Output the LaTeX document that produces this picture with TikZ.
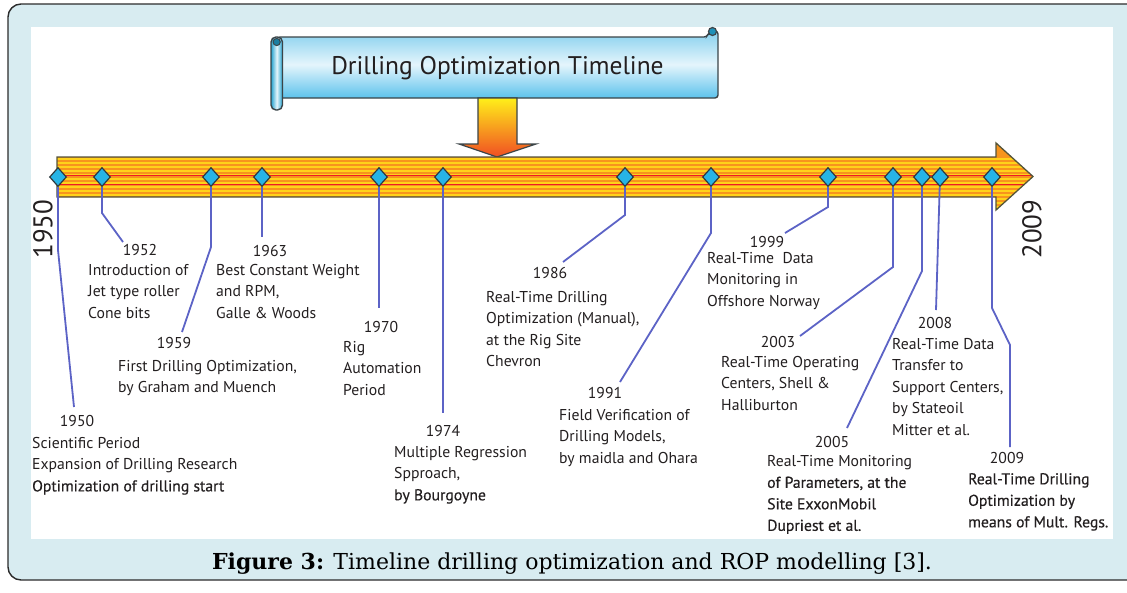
\documentclass[tikz,border=0pt]{standalone}
\usepackage{fontspec}
\newfontfamily\lblfont{PT Sans}
\newfontfamily\lblheavy[FakeBold=0.4]{PT Sans}
\newfontfamily\capfont{DejaVu Serif}
\usetikzlibrary{shapes.geometric}

\definecolor{framebg}{HTML}{D8ECF1}
\definecolor{framerule}{HTML}{2B2B2B}
\definecolor{conncol}{HTML}{5C63C6}
\definecolor{gem}{HTML}{27B4E6}
\definecolor{gemrule}{HTML}{2F3A3F}
\definecolor{barorange}{HTML}{F7941D}
\definecolor{baryellow}{HTML}{FFD21A}
\definecolor{barred}{HTML}{ED1C24}
\definecolor{barrule}{HTML}{55553A}
\definecolor{inkcol}{HTML}{231F20}
\definecolor{scrolltop}{HTML}{86D0EE}
\definecolor{scrollmid}{HTML}{E4F5FC}
\definecolor{scrollbot}{HTML}{5CC2EC}
\definecolor{scrollrule}{HTML}{3B4448}
\definecolor{pointtop}{HTML}{FFEF1A}
\definecolor{pointbot}{HTML}{F04E23}

\tikzset{
  gemnode/.style={diamond, draw=gemrule, fill=gem, line width=1.2pt,
                  minimum width=17pt, minimum height=19pt, inner sep=0pt},
  conn/.style={conncol, line width=1.8pt},
  yearlbl/.style={font=\lblfont\fontsize{15.7}{21.5}\selectfont, text=inkcol,
                  inner sep=0pt, anchor=center},
  desc/.style={font=\lblfont\fontsize{15.7}{21.5}\selectfont, text=inkcol,
               inner sep=0pt, anchor=north west, align=left},
  endyear/.style={font=\lblfont\fontsize{27}{30}\selectfont, text=inkcol,
                  inner sep=0pt, rotate=90}
}

\begin{document}
\begin{tikzpicture}[x=1pt,y=-1pt]
\useasboundingbox (0,0) rectangle (1127,592);
\begin{scope}
\clip (0,0) rectangle (1127,592);
% page frame and white panel
\filldraw[fill=framebg, draw=framerule, line width=1.4pt, rounded corners=13pt]
  (8,4) rectangle (1160,580);
\fill[white] (31,27) rectangle (1113,539);
\end{scope}

% title scroll
\shade[top color=scrolltop, bottom color=scrollbot, middle color=scrollmid,
       draw=scrollrule, line width=1.4pt, rounded corners=3pt]
  (277,37) -- (707,37) -- (709,32) -- (718,31) -- (718,98) -- (277,98) -- cycle;
\filldraw[fill=gem!80!black, draw=scrollrule, line width=1.2pt] (712.5,31.5) circle (4pt);
\shade[left color=gem!90!black, right color=gem!90!black, middle color=scrollmid,
       draw=scrollrule, line width=1.4pt, rounded corners=5pt]
  (271,37) rectangle (282.5,110);
\filldraw[fill=gem!70!black, draw=scrollrule, line width=1pt] (276.7,42) circle (3.6pt);
\node[font=\lblfont\fontsize{25.5}{28}\selectfont, text=inkcol, inner sep=0pt]
  (title) at (497.5,68) {Drilling Optimization Timeline};

% pointer from the title down to the time bar
\shade[top color=pointtop, bottom color=pointbot, draw=scrollrule, line width=1.2pt]
  (478,98) -- (517,98) -- (517,144) -- (536,144) -- (497,157) -- (459,144)
  -- (478,144) -- cycle;

% striped time bar
\begin{scope}
\path[clip] (57,157) -- (996,157) -- (996,143) -- (1033,176.5) -- (996,210)
  -- (996,197) -- (57,197) -- cycle;
\fill[barorange] (50,140) rectangle (1040,215);
\foreach \yy in {159,163,...,211}
  \draw[baryellow, line width=1.7pt] (50,\yy) -- (1040,\yy);
\draw[barred, line width=0.8pt] (50,175) -- (1040,175);
\draw[barred, line width=0.8pt] (50,184) -- (1040,184);
\end{scope}
\draw[barrule, line width=1.3pt, line join=miter]
  (57,157) -- (996,157) -- (996,143) -- (1033,176.5) -- (996,210)
  -- (996,197) -- (57,197) -- cycle;

% end years
\node[endyear] (start) at (43,229) {1950};
\node[endyear] (finish) at (1032,229) {2009};

% milestones on the bar
\foreach \yr/\xx in {1950/58,1952/102,1959/211,1963/262,1970/379,1974/443,
                     1986/625,1991/711,1999/828,2003/893,2005/922,2008/940,2009/992}
  \node[gemnode] (d\yr) at (\xx,177) {};

% leader ends
\coordinate (c1950) at (74,407);
\coordinate (c1952) at (123,242);
\coordinate (c1959) at (182,332);
\coordinate (c1963) at (262,237);
\coordinate (c1970) at (379,308);
\coordinate (c1974) at (443,413);
\coordinate (c1986) at (563,262);
\coordinate (c1991) at (620,382);
\coordinate (c1999) at (785,233);
\coordinate (c2003) at (800,336);
\coordinate (c2005) at (847,428);
\coordinate (c2008) at (936,310);
\coordinate (c2009) at (1010,447);

% leaders
\draw[conn] (d1950) -- (58,250) -- (c1950);
\draw[conn] (d1952) -- (102,213) -- (c1952);
\draw[conn] (d1959) -- (211,247) -- (c1959);
\draw[conn] (d1963) -- (c1963);
\draw[conn] (d1970) -- (c1970);
\draw[conn] (d1974) -- (c1974);
\draw[conn] (d1986) -- (625,215) -- (c1986);
\draw[conn] (d1991) -- (711,233) -- (c1991);
\draw[conn] (d1999) -- (828,207) -- (c1999);
\draw[conn] (d2003) -- (893,267) -- (c2003);
\draw[conn] (d2005) -- (922,271) -- (c2005);
\draw[conn] (d2008) -- (c2008);
\draw[conn] (d2009) -- (992,308) -- (1010,345) -- (c2009);

% milestone texts
\node[yearlbl] (y1952) at (140,250) {1952};
\node[desc] (t1952) at (88,264) {Introduction of\\Jet type roller\\Cone bits};

\node[yearlbl] (y1963) at (270,251) {1963};
\node[desc] (t1963) at (216,264) {Best Constant Weight\\and RPM,\\Galle \& Woods};

\node[yearlbl] (y1959) at (174,343) {1959};
\node[desc] (t1959) at (118,360) {First Drilling Optimization,\\by Graham and Muench};

\node[yearlbl] (y1970) at (381,327) {1970};
\node[desc] (t1970) at (343,341) {Rig\\Automation\\Period};

\node[yearlbl] (y1950) at (77,421) {1950};
\node[desc] (t1950) at (32,437) {Scientific Period\\Expansion of Drilling Research\\{\lblheavy Optimization of drilling start}};

\node[yearlbl] (y1974) at (443,431) {1974};
\node[desc] (t1974) at (394,446) {Multiple Regression\\Spproach,\\{\lblheavy by Bourgoyne}};

\node[yearlbl] (y1986) at (550,273) {1986};
\node[desc] (t1986) at (486,291) {Real-Time Drilling\\Optimization (Manual),\\at the Rig Site\\Chevron};

\node[yearlbl] (y1991) at (605,393) {1991};
\node[desc] (t1991) at (559,409) {Field Verification of\\Drilling Models,\\by maidla and Ohara};

\node[yearlbl] (y1999) at (767,242) {1999};
\node[desc] (t1999) at (707,252) {Real-Time\ \ Data\\Monitoring in\\Offshore Norway};

\node[yearlbl] (y2003) at (778,342) {2003};
\node[desc] (t2003) at (721,356) {Real-Time Operating\\Centers, Shell \&\\Halliburton};

\node[yearlbl] (y2005) at (832,442) {2005};
\node[desc] (t2005) at (767,455) {Real-Time Monitoring\\{\lblheavy of Parameters, at the}\\{\lblheavy Site ExxonMobil}\\{\lblheavy Dupriest et al.}};

\node[yearlbl] (y2008) at (935,323) {2008};
\node[desc] (t2008) at (892,338) {Real-Time Data\\Transfer to\\Support Centers,\\by Stateoil\\Mitter et al.};

\node[yearlbl] (y2009) at (1007,458) {2009};
\node[desc] (t2009) at (968,473) {{\lblheavy Real-Time Drilling}\\{\lblheavy Optimization by}\\{\lblheavy means of Mult. Regs.}};

% caption
\node[font=\capfont\fontsize{22}{26}\selectfont, text=black, inner sep=0pt] (caption) at (572,564)
  {\textbf{Figure 3:} Timeline drilling optimization and ROP modelling [3].};
\end{tikzpicture}
\end{document}
